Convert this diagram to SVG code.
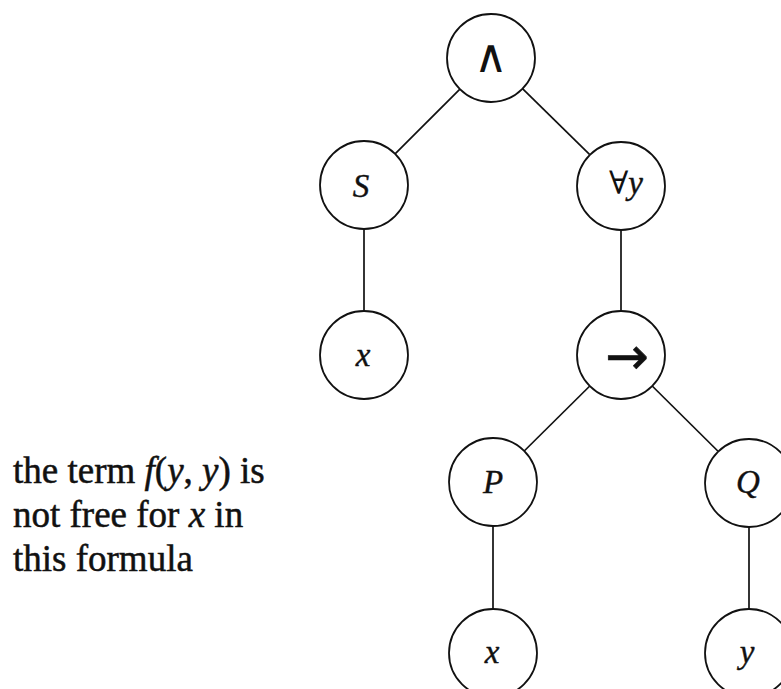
<svg xmlns="http://www.w3.org/2000/svg" width="781" height="689" viewBox="0 0 781 689">
<style>
.node circle{fill:#fff;stroke:#111;stroke-width:1.8}
.lbl{font-family:"Liberation Serif","DejaVu Serif",serif;font-size:33px;fill:#111;stroke:#111;stroke-width:0.4;text-anchor:middle}
.it{font-style:italic}
.and{font-family:"DejaVu Sans",sans-serif;font-size:46px;font-weight:200;stroke-width:0}
.all{font-family:"DejaVu Serif",serif;font-size:32px;stroke-width:0}
.imp{font-family:"DejaVu Sans",sans-serif;font-size:52px;stroke-width:0.6}
.edges line{stroke:#111;stroke-width:1.7}
.note{font-family:"Liberation Serif","Times New Roman",serif;font-size:37px;fill:#111;stroke:#111;stroke-width:0.5}
</style>
<rect width="781" height="689" fill="#fff"/>
<g class="edges">
<line x1="459.9" y1="89.1" x2="395.1" y2="153.9"/>
<line x1="522.5" y1="88.7" x2="589.5" y2="154.3"/>
<line x1="364" y1="229" x2="364" y2="311"/>
<line x1="621" y1="230" x2="621" y2="311"/>
<line x1="589.8" y1="386" x2="524.2" y2="451"/>
<line x1="652.2" y1="386" x2="717.8" y2="451"/>
<line x1="493" y1="526" x2="493" y2="609"/>
<line x1="749" y1="527" x2="749" y2="609"/>
</g>
<g id="n-and" class="node"><circle cx="491" cy="58" r="44"/><text class="lbl and" x="491" y="72">∧</text></g>
<g id="n-S" class="node"><circle cx="364" cy="185" r="44"/><text class="lbl it" x="361" y="197">S</text></g>
<g id="n-forall" class="node"><circle cx="621" cy="186" r="44"/><text class="lbl" x="626" y="194"><tspan class="all">∀</tspan><tspan class="it">y</tspan></text></g>
<g id="n-x1" class="node"><circle cx="364" cy="355" r="44"/><text class="lbl it" x="363" y="366">x</text></g>
<g id="n-imp" class="node"><circle cx="621" cy="355" r="44"/><text class="lbl imp" x="627" y="374">→</text></g>
<g id="n-P" class="node"><circle cx="493" cy="482" r="44"/><text class="lbl it" x="493" y="493">P</text></g>
<g id="n-Q" class="node"><circle cx="749" cy="483" r="44"/><text class="lbl it" x="748" y="493">Q</text></g>
<g id="n-x2" class="node"><circle cx="493" cy="653" r="44"/><text class="lbl it" x="492" y="663">x</text></g>
<g id="n-y" class="node"><circle cx="749" cy="653" r="44"/><text class="lbl it" x="747" y="663">y</text></g>
<g id="note">
<text class="note" x="13" y="483">the term <tspan font-style="italic">f</tspan>(<tspan font-style="italic">y</tspan>, <tspan font-style="italic">y</tspan>) is</text>
<text class="note" x="13" y="527">not free for <tspan font-style="italic">x</tspan> in</text>
<text class="note" x="13" y="571">this formula</text>
</g>
</svg>
